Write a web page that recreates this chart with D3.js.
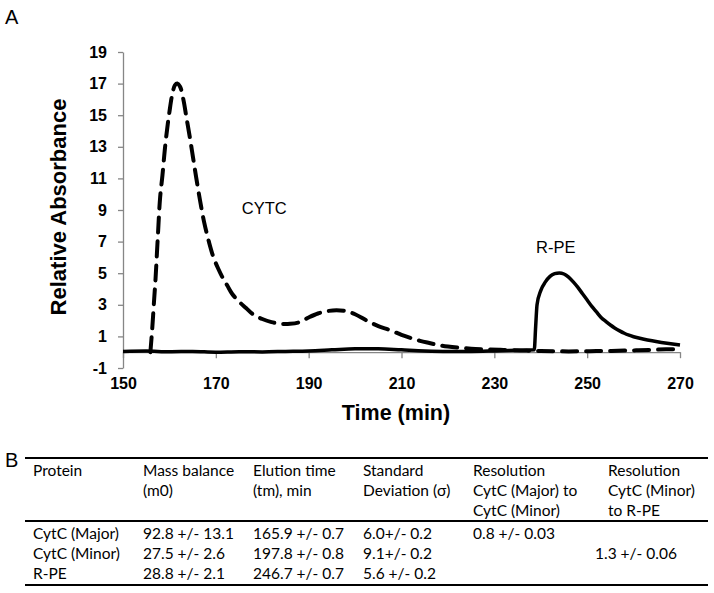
<!DOCTYPE html>
<html><head><meta charset="utf-8">
<script src="https://cdn.jsdelivr.net/npm/d3@7"></script>
<style>
html,body{margin:0;padding:0;background:#fff;}
svg{display:block;}
</style></head>
<body>
<svg id="chart" width="714" height="593"></svg>
<script>
// ---- data ----
const cytcTime = [155.9,156.3,156.7,157.0,157.5,158.0,158.5,159.0,159.5,160.0,160.6,161.2,161.7,162.3,163.0,163.7,164.4,165.1,165.8,166.6,167.5,168.5,169.5,170.5,171.5,172.5,173.5,175.0,176.5,178.0,180.0,182.0,184.0,186.0,188.0,190.0,192.0,194.0,196.0,198.0,200.0,202.5,205.0,207.5,210.0,212.0,214.0,216.0,218.0,220.0,222.5,225.0,228.0,231.0,234.0,237.0,240.0,243.0,246.0,249.0,252.0,255.0,258.0,261.0,264.0,267.0,270.0];
const cytcValue = [0.0,1.5,3.3,4.6,7.3,9.8,11.2,12.8,14.1,15.2,16.3,16.9,17.0,16.8,16.0,14.8,13.6,12.3,11.0,9.6,8.2,7.0,6.0,5.3,4.7,4.2,3.7,3.2,2.8,2.4,2.1,1.9,1.8,1.8,1.9,2.2,2.45,2.6,2.65,2.6,2.4,2.0,1.65,1.4,1.1,0.9,0.72,0.58,0.45,0.36,0.28,0.22,0.18,0.15,0.13,0.1,0.08,0.06,0.05,0.06,0.07,0.08,0.1,0.12,0.15,0.18,0.2];
const rpeTime = [150,155,160,165,170,175,180,185,190,195,200,205,210,215,220,225,230,235,238.6,238.9,239.2,240.0,241.0,242.0,243.0,244.0,245.0,246.0,247.0,248.0,249.0,250.0,251.0,252.0,253.0,254.0,255.0,256.0,257.0,258.0,259.0,260.0,262.0,264.0,266.0,268.0,270.0];
const rpeValue = [0.05,0.07,0.03,0.05,0.0,0.03,0.02,0.05,0.08,0.15,0.22,0.22,0.15,0.08,0.05,0.05,0.08,0.12,0.15,1.6,3.0,3.9,4.45,4.8,4.97,5.02,4.95,4.75,4.45,4.1,3.7,3.3,2.9,2.55,2.2,1.95,1.72,1.52,1.35,1.2,1.08,0.98,0.84,0.72,0.62,0.53,0.45];
const xTicks = [150,170,190,210,230,250,270];
const yTicks = [-1,1,3,5,7,9,11,13,15,17,19];
const seriesLabels = ["CYTC","R-PE"];
const labelPos = [[175.6,8.75],[239.0,6.3]];

const tableHeader = [
  ["Protein"],
  ["Mass balance","(m0)"],
  ["Elution time","(tm), min"],
  ["Standard","Deviation (\u03c3)"],
  ["Resolution","CytC (Major) to","CytC (Minor)"],
  ["Resolution","CytC (Minor)","to R-PE"]
];
const tableRows = [
  ["CytC (Major)","92.8 +/- 13.1","165.9 +/- 0.7","6.0+/- 0.2","0.8 +/- 0.03",""],
  ["CytC (Minor)","27.5 +/- 2.6","197.8 +/- 0.8","9.1+/- 0.2","","1.3 +/- 0.06"],
  ["R-PE","28.8 +/- 2.1","246.7 +/- 0.7","5.6 +/- 0.2","",""]
];

// ---- drawing ----
const svg = d3.select("#chart");
const x = d3.scaleLinear().domain([150,270]).range([123,680]);
const y = d3.scaleLinear().domain([-1,19]).range([368,52]);
const axisColor = "#868686";
const chartFont = "Liberation Sans, Arial, sans-serif";

svg.append("text").attr("x",5).attr("y",24).attr("font-family",chartFont)
  .attr("font-size",20).text("A");

// y axis
const yAx = svg.append("g").attr("transform","translate(123,0)")
  .call(d3.axisLeft(y).tickValues(yTicks).tickFormat(d=>String(d)).tickSize(5).tickPadding(11).tickSizeOuter(0));
yAx.select(".domain").attr("stroke",axisColor).attr("stroke-width",1.3);
yAx.selectAll(".tick line").attr("stroke",axisColor).attr("stroke-width",1.3);
yAx.selectAll(".tick text").attr("font-family",chartFont).attr("font-size",16)
  .attr("font-weight","bold").attr("fill","#000");

// x axis at y=0
const xAx = svg.append("g").attr("transform",`translate(0,${y(0)})`)
  .call(d3.axisBottom(x).tickValues(xTicks).tickFormat(d=>String(d)).tickSize(6).tickPadding(19).tickSizeOuter(0));
xAx.select(".domain").attr("stroke",axisColor).attr("stroke-width",1.3);
xAx.selectAll(".tick line").attr("stroke",axisColor).attr("stroke-width",1.3);
xAx.selectAll(".tick text").attr("font-family",chartFont).attr("font-size",16)
  .attr("font-weight","bold").attr("fill","#000");

// titles
svg.append("text").attr("x",396).attr("y",420).attr("text-anchor","middle")
  .attr("font-family",chartFont).attr("font-size",21.5).attr("font-weight","bold").text("Time (min)");
svg.append("text").attr("transform","translate(66,207) rotate(-90)").attr("text-anchor","middle")
  .attr("font-family",chartFont).attr("font-size",22).attr("font-weight","bold").text("Relative Absorbance");

// lines
const line = d3.line().x(d=>x(d[0])).y(d=>y(d[1])).curve(d3.curveMonotoneX);
const rpe = rpeTime.map((t,i)=>[t,rpeValue[i]]);
const cytc = cytcTime.map((t,i)=>[t,cytcValue[i]]);
svg.append("path").datum(rpe).attr("d",line).attr("fill","none").attr("stroke","#000")
  .attr("stroke-width",3.5).attr("stroke-linejoin","round");
svg.append("path").datum(cytc).attr("d",d3.line().x(d=>x(d[0])).y(d=>y(d[1])).curve(d3.curveCatmullRom))
  .attr("fill","none").attr("stroke","#000")
  .attr("stroke-width",4).attr("stroke-dasharray","15,9").attr("stroke-linecap","round");

// series labels
seriesLabels.forEach((s,i)=>{
  svg.append("text").attr("x",x(labelPos[i][0])).attr("y",y(labelPos[i][1]))
    .attr("font-family",chartFont).attr("font-size",16.5).attr("fill","#000").text(s);
});

// ---- table ----
const tFont = "Lato, 'Open Sans', sans-serif";
svg.append("text").attr("x",5).attr("y",467).attr("font-family",chartFont)
  .attr("font-size",20).text("B");
const colX = [33,143,253,363,473,608];
const cellX = [33,143,253,363,473,595];
[458,521,585].forEach(yy=>{
  svg.append("line").attr("x1",25).attr("x2",708).attr("y1",yy).attr("y2",yy)
    .attr("stroke","#000").attr("stroke-width",2);
});
tableHeader.forEach((lines,c)=>{
  lines.forEach((t,k)=>{
    svg.append("text").attr("x",colX[c]).attr("y",476+k*20).attr("font-family",tFont)
      .attr("font-size",15.5).attr("fill","#000").text(t);
  });
});
tableRows.forEach((row,r)=>{
  row.forEach((t,c)=>{
    if(!t) return;
    svg.append("text").attr("x",cellX[c]).attr("y",539+r*20).attr("font-family",tFont)
      .attr("font-size",15.5).attr("fill","#000").text(t);
  });
});
</script>
</body></html>
